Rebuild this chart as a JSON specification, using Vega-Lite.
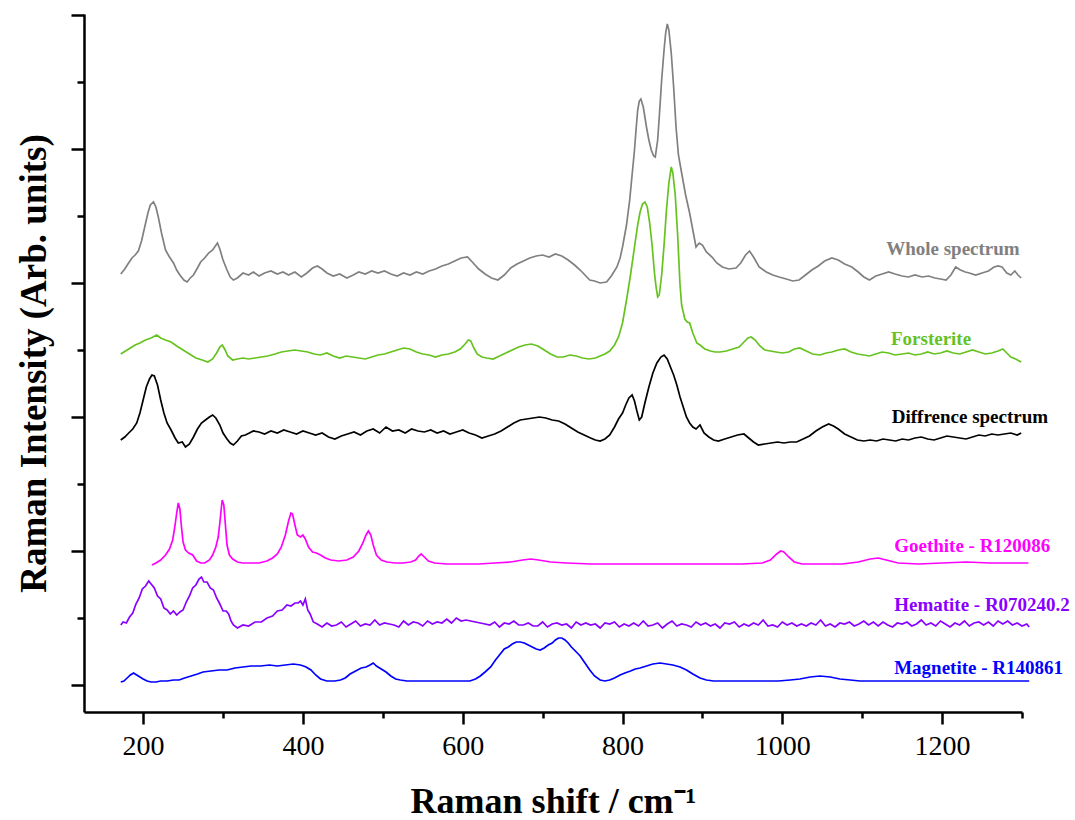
{
"$schema": "https://vega.github.io/schema/vega-lite/v6.json",
"width": 938, "height": 698,
"autosize": "none",
"padding": {"left": 84, "top": 14, "right": 53, "bottom": 108},
"background": "white",
"config": {"view": {"stroke": null}},
"datasets": {
"spectra": [
{"s":"W","x":172,"y":411},{"s":"W","x":177,"y":416},{"s":"W","x":181,"y":421},{"s":"W","x":186,"y":427},{"s":"W","x":190,"y":430},{"s":"W","x":194,"y":434},{"s":"W","x":198,"y":444},{"s":"W","x":202,"y":458},{"s":"W","x":206,"y":472},{"s":"W","x":209,"y":480},{"s":"W","x":213,"y":483},{"s":"W","x":216,"y":478},{"s":"W","x":219,"y":468},{"s":"W","x":223,"y":452},{"s":"W","x":228,"y":435},{"s":"W","x":233,"y":428},{"s":"W","x":238,"y":422},{"s":"W","x":242,"y":415},{"s":"W","x":246,"y":410},{"s":"W","x":251,"y":405},{"s":"W","x":255,"y":403},{"s":"W","x":259,"y":407},{"s":"W","x":263,"y":410},{"s":"W","x":268,"y":417},{"s":"W","x":272,"y":423},{"s":"W","x":277,"y":427},{"s":"W","x":282,"y":432},{"s":"W","x":287,"y":435},{"s":"W","x":293,"y":442},{"s":"W","x":296,"y":436},{"s":"W","x":300,"y":425},{"s":"W","x":305,"y":415},{"s":"W","x":309,"y":408},{"s":"W","x":313,"y":405},{"s":"W","x":318,"y":407},{"s":"W","x":325,"y":412},{"s":"W","x":332,"y":410},{"s":"W","x":338,"y":413},{"s":"W","x":345,"y":409},{"s":"W","x":352,"y":412},{"s":"W","x":360,"y":414},{"s":"W","x":368,"y":411},{"s":"W","x":375,"y":413},{"s":"W","x":382,"y":410},{"s":"W","x":390,"y":413},{"s":"W","x":398,"y":408},{"s":"W","x":405,"y":412},{"s":"W","x":412,"y":417},{"s":"W","x":418,"y":419},{"s":"W","x":424,"y":416},{"s":"W","x":430,"y":412},{"s":"W","x":438,"y":409},{"s":"W","x":446,"y":411},{"s":"W","x":455,"y":407},{"s":"W","x":463,"y":410},{"s":"W","x":470,"y":413},{"s":"W","x":478,"y":411},{"s":"W","x":486,"y":414},{"s":"W","x":494,"y":412},{"s":"W","x":502,"y":414},{"s":"W","x":510,"y":411},{"s":"W","x":518,"y":409},{"s":"W","x":526,"y":412},{"s":"W","x":534,"y":410},{"s":"W","x":542,"y":413},{"s":"W","x":550,"y":411},{"s":"W","x":558,"y":414},{"s":"W","x":566,"y":416},{"s":"W","x":574,"y":419},{"s":"W","x":582,"y":421},{"s":"W","x":590,"y":424},{"s":"W","x":598,"y":427},{"s":"W","x":606,"y":428},{"s":"W","x":612,"y":423},{"s":"W","x":620,"y":416},{"s":"W","x":628,"y":411},{"s":"W","x":636,"y":407},{"s":"W","x":644,"y":405},{"s":"W","x":652,"y":410},{"s":"W","x":660,"y":417},{"s":"W","x":668,"y":421},{"s":"W","x":676,"y":424},{"s":"W","x":684,"y":427},{"s":"W","x":692,"y":429},{"s":"W","x":700,"y":430},{"s":"W","x":708,"y":428},{"s":"W","x":716,"y":431},{"s":"W","x":724,"y":429},{"s":"W","x":732,"y":425},{"s":"W","x":740,"y":420},{"s":"W","x":747,"y":415},{"s":"W","x":753,"y":410},{"s":"W","x":759,"y":405},{"s":"W","x":765,"y":404},{"s":"W","x":772,"y":402},{"s":"W","x":780,"y":403},{"s":"W","x":786,"y":409},{"s":"W","x":793,"y":418},{"s":"W","x":797,"y":427},{"s":"W","x":800,"y":438},{"s":"W","x":805,"y":460},{"s":"W","x":809,"y":485},{"s":"W","x":812,"y":510},{"s":"W","x":815,"y":535},{"s":"W","x":817,"y":556},{"s":"W","x":819,"y":575},{"s":"W","x":821,"y":584},{"s":"W","x":823,"y":586},{"s":"W","x":826,"y":578},{"s":"W","x":830,"y":558},{"s":"W","x":833,"y":545},{"s":"W","x":836,"y":535},{"s":"W","x":839,"y":529},{"s":"W","x":841,"y":528},{"s":"W","x":844,"y":545},{"s":"W","x":846,"y":568},{"s":"W","x":849,"y":605},{"s":"W","x":852,"y":635},{"s":"W","x":854,"y":652},{"s":"W","x":856,"y":661},{"s":"W","x":858,"y":655},{"s":"W","x":861,"y":632},{"s":"W","x":864,"y":598},{"s":"W","x":867,"y":558},{"s":"W","x":870,"y":530},{"s":"W","x":874,"y":512},{"s":"W","x":879,"y":490},{"s":"W","x":884,"y":472},{"s":"W","x":888,"y":455},{"s":"W","x":892,"y":438},{"s":"W","x":896,"y":442},{"s":"W","x":900,"y":440},{"s":"W","x":905,"y":433},{"s":"W","x":912,"y":428},{"s":"W","x":918,"y":422},{"s":"W","x":925,"y":418},{"s":"W","x":933,"y":416},{"s":"W","x":942,"y":417},{"s":"W","x":948,"y":422},{"s":"W","x":954,"y":430},{"s":"W","x":959,"y":434},{"s":"W","x":964,"y":428},{"s":"W","x":971,"y":418},{"s":"W","x":980,"y":413},{"s":"W","x":988,"y":410},{"s":"W","x":996,"y":408},{"s":"W","x":1005,"y":406},{"s":"W","x":1013,"y":404},{"s":"W","x":1021,"y":405},{"s":"W","x":1029,"y":410},{"s":"W","x":1037,"y":415},{"s":"W","x":1045,"y":419},{"s":"W","x":1053,"y":424},{"s":"W","x":1062,"y":427},{"s":"W","x":1070,"y":425},{"s":"W","x":1078,"y":421},{"s":"W","x":1087,"y":418},{"s":"W","x":1095,"y":413},{"s":"W","x":1102,"y":408},{"s":"W","x":1109,"y":405},{"s":"W","x":1117,"y":409},{"s":"W","x":1125,"y":411},{"s":"W","x":1133,"y":413},{"s":"W","x":1141,"y":411},{"s":"W","x":1150,"y":409},{"s":"W","x":1158,"y":408},{"s":"W","x":1166,"y":410},{"s":"W","x":1175,"y":408},{"s":"W","x":1183,"y":409},{"s":"W","x":1191,"y":407},{"s":"W","x":1198,"y":406},{"s":"W","x":1205,"y":405},{"s":"W","x":1211,"y":410},{"s":"W","x":1217,"y":418},{"s":"W","x":1223,"y":415},{"s":"W","x":1229,"y":413},{"s":"W","x":1234,"y":412},{"s":"W","x":1242,"y":410},{"s":"W","x":1250,"y":412},{"s":"W","x":1258,"y":414},{"s":"W","x":1265,"y":418},{"s":"W","x":1270,"y":419},{"s":"W","x":1275,"y":418},{"s":"W","x":1281,"y":412},{"s":"W","x":1286,"y":410},{"s":"W","x":1291,"y":414},{"s":"W","x":1295,"y":410},{"s":"W","x":1299,"y":407},

{"s":"F","x":172,"y":331},{"s":"F","x":178,"y":334},{"s":"F","x":184,"y":337},{"s":"F","x":190,"y":340},{"s":"F","x":196,"y":342},{"s":"F","x":203,"y":345},{"s":"F","x":210,"y":347},{"s":"F","x":217,"y":350},{"s":"F","x":222,"y":347},{"s":"F","x":228,"y":345},{"s":"F","x":235,"y":343},{"s":"F","x":242,"y":339},{"s":"F","x":250,"y":335},{"s":"F","x":258,"y":331},{"s":"F","x":266,"y":327},{"s":"F","x":274,"y":325},{"s":"F","x":281,"y":323},{"s":"F","x":287,"y":326},{"s":"F","x":292,"y":332},{"s":"F","x":296,"y":338},{"s":"F","x":299,"y":340},{"s":"F","x":302,"y":336},{"s":"F","x":306,"y":329},{"s":"F","x":312,"y":325},{"s":"F","x":318,"y":326},{"s":"F","x":325,"y":327},{"s":"F","x":332,"y":326},{"s":"F","x":340,"y":327},{"s":"F","x":348,"y":328},{"s":"F","x":356,"y":329},{"s":"F","x":365,"y":331},{"s":"F","x":373,"y":333},{"s":"F","x":381,"y":334},{"s":"F","x":390,"y":335},{"s":"F","x":398,"y":334},{"s":"F","x":406,"y":333},{"s":"F","x":414,"y":331},{"s":"F","x":422,"y":330},{"s":"F","x":430,"y":332},{"s":"F","x":438,"y":329},{"s":"F","x":446,"y":327},{"s":"F","x":454,"y":329},{"s":"F","x":462,"y":328},{"s":"F","x":470,"y":327},{"s":"F","x":478,"y":326},{"s":"F","x":486,"y":328},{"s":"F","x":494,"y":330},{"s":"F","x":502,"y":331},{"s":"F","x":510,"y":333},{"s":"F","x":518,"y":335},{"s":"F","x":526,"y":337},{"s":"F","x":534,"y":336},{"s":"F","x":542,"y":333},{"s":"F","x":550,"y":331},{"s":"F","x":558,"y":330},{"s":"F","x":566,"y":328},{"s":"F","x":574,"y":330},{"s":"F","x":582,"y":331},{"s":"F","x":590,"y":333},{"s":"F","x":597,"y":336},{"s":"F","x":603,"y":341},{"s":"F","x":607,"y":345},{"s":"F","x":610,"y":344},{"s":"F","x":614,"y":337},{"s":"F","x":618,"y":331},{"s":"F","x":624,"y":328},{"s":"F","x":630,"y":327},{"s":"F","x":638,"y":326},{"s":"F","x":646,"y":329},{"s":"F","x":654,"y":332},{"s":"F","x":662,"y":335},{"s":"F","x":670,"y":338},{"s":"F","x":678,"y":340},{"s":"F","x":686,"y":341},{"s":"F","x":694,"y":339},{"s":"F","x":702,"y":335},{"s":"F","x":710,"y":331},{"s":"F","x":718,"y":328},{"s":"F","x":726,"y":328},{"s":"F","x":734,"y":330},{"s":"F","x":742,"y":329},{"s":"F","x":750,"y":327},{"s":"F","x":758,"y":326},{"s":"F","x":766,"y":327},{"s":"F","x":772,"y":329},{"s":"F","x":778,"y":331},{"s":"F","x":784,"y":334},{"s":"F","x":790,"y":340},{"s":"F","x":795,"y":348},{"s":"F","x":800,"y":362},{"s":"F","x":805,"y":385},{"s":"F","x":810,"y":410},{"s":"F","x":815,"y":438},{"s":"F","x":819,"y":460},{"s":"F","x":822,"y":473},{"s":"F","x":825,"y":481},{"s":"F","x":828,"y":483},{"s":"F","x":831,"y":478},{"s":"F","x":834,"y":462},{"s":"F","x":837,"y":440},{"s":"F","x":840,"y":412},{"s":"F","x":842,"y":398},{"s":"F","x":844,"y":388},{"s":"F","x":846,"y":390},{"s":"F","x":849,"y":410},{"s":"F","x":852,"y":440},{"s":"F","x":855,"y":475},{"s":"F","x":858,"y":502},{"s":"F","x":861,"y":518},{"s":"F","x":863,"y":512},{"s":"F","x":866,"y":490},{"s":"F","x":869,"y":450},{"s":"F","x":872,"y":400},{"s":"F","x":874,"y":380},{"s":"F","x":878,"y":366},{"s":"F","x":881,"y":363},{"s":"F","x":884,"y":362},{"s":"F","x":888,"y":352},{"s":"F","x":893,"y":342},{"s":"F","x":897,"y":340},{"s":"F","x":903,"y":336},{"s":"F","x":910,"y":334},{"s":"F","x":916,"y":333},{"s":"F","x":922,"y":333},{"s":"F","x":930,"y":334},{"s":"F","x":938,"y":336},{"s":"F","x":946,"y":338},{"s":"F","x":952,"y":343},{"s":"F","x":957,"y":347},{"s":"F","x":961,"y":348},{"s":"F","x":966,"y":345},{"s":"F","x":972,"y":339},{"s":"F","x":978,"y":335},{"s":"F","x":985,"y":334},{"s":"F","x":992,"y":333},{"s":"F","x":1000,"y":332},{"s":"F","x":1008,"y":333},{"s":"F","x":1015,"y":336},{"s":"F","x":1022,"y":337},{"s":"F","x":1030,"y":334},{"s":"F","x":1038,"y":331},{"s":"F","x":1047,"y":330},{"s":"F","x":1055,"y":332},{"s":"F","x":1062,"y":333},{"s":"F","x":1070,"y":335},{"s":"F","x":1078,"y":336},{"s":"F","x":1086,"y":333},{"s":"F","x":1094,"y":331},{"s":"F","x":1102,"y":330},{"s":"F","x":1109,"y":329},{"s":"F","x":1117,"y":331},{"s":"F","x":1125,"y":333},{"s":"F","x":1133,"y":332},{"s":"F","x":1141,"y":330},{"s":"F","x":1150,"y":331},{"s":"F","x":1158,"y":332},{"s":"F","x":1166,"y":330},{"s":"F","x":1174,"y":331},{"s":"F","x":1182,"y":333},{"s":"F","x":1190,"y":331},{"s":"F","x":1198,"y":332},{"s":"F","x":1206,"y":334},{"s":"F","x":1214,"y":332},{"s":"F","x":1222,"y":331},{"s":"F","x":1230,"y":333},{"s":"F","x":1238,"y":335},{"s":"F","x":1246,"y":333},{"s":"F","x":1254,"y":331},{"s":"F","x":1262,"y":332},{"s":"F","x":1270,"y":334},{"s":"F","x":1276,"y":336},{"s":"F","x":1281,"y":332},{"s":"F","x":1286,"y":328},{"s":"F","x":1292,"y":326},{"s":"F","x":1299,"y":323},

{"s":"D","x":172,"y":245},{"s":"D","x":177,"y":248},{"s":"D","x":182,"y":252},{"s":"D","x":187,"y":256},{"s":"D","x":192,"y":262},{"s":"D","x":196,"y":272},{"s":"D","x":200,"y":285},{"s":"D","x":204,"y":298},{"s":"D","x":208,"y":306},{"s":"D","x":211,"y":310},{"s":"D","x":214,"y":309},{"s":"D","x":218,"y":300},{"s":"D","x":222,"y":285},{"s":"D","x":226,"y":272},{"s":"D","x":230,"y":262},{"s":"D","x":235,"y":255},{"s":"D","x":240,"y":247},{"s":"D","x":244,"y":242},{"s":"D","x":249,"y":243},{"s":"D","x":253,"y":238},{"s":"D","x":258,"y":241},{"s":"D","x":263,"y":248},{"s":"D","x":268,"y":256},{"s":"D","x":273,"y":262},{"s":"D","x":278,"y":265},{"s":"D","x":283,"y":268},{"s":"D","x":287,"y":270},{"s":"D","x":291,"y":267},{"s":"D","x":296,"y":260},{"s":"D","x":300,"y":252},{"s":"D","x":305,"y":246},{"s":"D","x":309,"y":242},{"s":"D","x":313,"y":240},{"s":"D","x":318,"y":244},{"s":"D","x":323,"y":249},{"s":"D","x":328,"y":250},{"s":"D","x":333,"y":252},{"s":"D","x":338,"y":254},{"s":"D","x":345,"y":253},{"s":"D","x":352,"y":251},{"s":"D","x":360,"y":254},{"s":"D","x":368,"y":252},{"s":"D","x":376,"y":255},{"s":"D","x":384,"y":253},{"s":"D","x":392,"y":251},{"s":"D","x":400,"y":254},{"s":"D","x":408,"y":252},{"s":"D","x":416,"y":250},{"s":"D","x":424,"y":252},{"s":"D","x":432,"y":248},{"s":"D","x":440,"y":246},{"s":"D","x":448,"y":249},{"s":"D","x":456,"y":251},{"s":"D","x":464,"y":253},{"s":"D","x":472,"y":250},{"s":"D","x":480,"y":254},{"s":"D","x":488,"y":256},{"s":"D","x":496,"y":252},{"s":"D","x":504,"y":258},{"s":"D","x":512,"y":254},{"s":"D","x":520,"y":255},{"s":"D","x":528,"y":252},{"s":"D","x":536,"y":256},{"s":"D","x":544,"y":254},{"s":"D","x":552,"y":253},{"s":"D","x":560,"y":255},{"s":"D","x":568,"y":252},{"s":"D","x":576,"y":254},{"s":"D","x":584,"y":251},{"s":"D","x":592,"y":253},{"s":"D","x":600,"y":255},{"s":"D","x":608,"y":252},{"s":"D","x":616,"y":250},{"s":"D","x":624,"y":247},{"s":"D","x":632,"y":249},{"s":"D","x":640,"y":251},{"s":"D","x":648,"y":254},{"s":"D","x":656,"y":258},{"s":"D","x":664,"y":262},{"s":"D","x":672,"y":265},{"s":"D","x":680,"y":266},{"s":"D","x":688,"y":267},{"s":"D","x":696,"y":268},{"s":"D","x":704,"y":267},{"s":"D","x":712,"y":265},{"s":"D","x":720,"y":264},{"s":"D","x":728,"y":261},{"s":"D","x":736,"y":257},{"s":"D","x":744,"y":253},{"s":"D","x":752,"y":250},{"s":"D","x":760,"y":247},{"s":"D","x":766,"y":245},{"s":"D","x":772,"y":244},{"s":"D","x":778,"y":246},{"s":"D","x":784,"y":250},{"s":"D","x":790,"y":258},{"s":"D","x":795,"y":266},{"s":"D","x":800,"y":272},{"s":"D","x":804,"y":280},{"s":"D","x":808,"y":287},{"s":"D","x":812,"y":290},{"s":"D","x":815,"y":284},{"s":"D","x":818,"y":274},{"s":"D","x":821,"y":265},{"s":"D","x":824,"y":268},{"s":"D","x":828,"y":282},{"s":"D","x":833,"y":298},{"s":"D","x":838,"y":312},{"s":"D","x":843,"y":322},{"s":"D","x":848,"y":328},{"s":"D","x":852,"y":330},{"s":"D","x":856,"y":326},{"s":"D","x":860,"y":318},{"s":"D","x":864,"y":310},{"s":"D","x":868,"y":300},{"s":"D","x":872,"y":288},{"s":"D","x":876,"y":278},{"s":"D","x":880,"y":268},{"s":"D","x":884,"y":262},{"s":"D","x":888,"y":258},{"s":"D","x":892,"y":256},{"s":"D","x":897,"y":260},{"s":"D","x":902,"y":252},{"s":"D","x":908,"y":248},{"s":"D","x":914,"y":245},{"s":"D","x":920,"y":244},{"s":"D","x":928,"y":246},{"s":"D","x":936,"y":248},{"s":"D","x":944,"y":250},{"s":"D","x":952,"y":251},{"s":"D","x":958,"y":247},{"s":"D","x":964,"y":243},{"s":"D","x":970,"y":240},{"s":"D","x":978,"y":241},{"s":"D","x":986,"y":242},{"s":"D","x":994,"y":243},{"s":"D","x":1002,"y":242},{"s":"D","x":1010,"y":243},{"s":"D","x":1018,"y":243},{"s":"D","x":1026,"y":246},{"s":"D","x":1034,"y":249},{"s":"D","x":1042,"y":254},{"s":"D","x":1050,"y":258},{"s":"D","x":1058,"y":261},{"s":"D","x":1064,"y":259},{"s":"D","x":1070,"y":256},{"s":"D","x":1078,"y":251},{"s":"D","x":1086,"y":248},{"s":"D","x":1094,"y":245},{"s":"D","x":1102,"y":244},{"s":"D","x":1110,"y":245},{"s":"D","x":1118,"y":244},{"s":"D","x":1126,"y":246},{"s":"D","x":1134,"y":245},{"s":"D","x":1142,"y":244},{"s":"D","x":1150,"y":246},{"s":"D","x":1158,"y":245},{"s":"D","x":1166,"y":247},{"s":"D","x":1174,"y":248},{"s":"D","x":1182,"y":246},{"s":"D","x":1190,"y":245},{"s":"D","x":1198,"y":247},{"s":"D","x":1206,"y":249},{"s":"D","x":1214,"y":248},{"s":"D","x":1222,"y":247},{"s":"D","x":1230,"y":246},{"s":"D","x":1238,"y":248},{"s":"D","x":1246,"y":250},{"s":"D","x":1254,"y":249},{"s":"D","x":1262,"y":251},{"s":"D","x":1270,"y":250},{"s":"D","x":1278,"y":251},{"s":"D","x":1286,"y":252},{"s":"D","x":1294,"y":250},{"s":"D","x":1299,"y":252},

{"s":"G","x":211,"y":120},{"s":"G","x":216,"y":122},{"s":"G","x":222,"y":125},{"s":"G","x":228,"y":130},{"s":"G","x":233,"y":136},{"s":"G","x":237,"y":145},{"s":"G","x":240,"y":160},{"s":"G","x":242,"y":172},{"s":"G","x":244,"y":182},{"s":"G","x":246,"y":176},{"s":"G","x":248,"y":158},{"s":"G","x":250,"y":143},{"s":"G","x":253,"y":135},{"s":"G","x":257,"y":132},{"s":"G","x":262,"y":130},{"s":"G","x":267,"y":124},{"s":"G","x":272,"y":122},{"s":"G","x":277,"y":122},{"s":"G","x":283,"y":125},{"s":"G","x":287,"y":130},{"s":"G","x":291,"y":138},{"s":"G","x":294,"y":148},{"s":"G","x":296,"y":162},{"s":"G","x":298,"y":178},{"s":"G","x":299,"y":185},{"s":"G","x":301,"y":180},{"s":"G","x":303,"y":160},{"s":"G","x":305,"y":140},{"s":"G","x":308,"y":130},{"s":"G","x":312,"y":126},{"s":"G","x":318,"y":123},{"s":"G","x":325,"y":122},{"s":"G","x":335,"y":122},{"s":"G","x":345,"y":122},{"s":"G","x":355,"y":124},{"s":"G","x":362,"y":127},{"s":"G","x":368,"y":131},{"s":"G","x":373,"y":138},{"s":"G","x":378,"y":150},{"s":"G","x":382,"y":164},{"s":"G","x":385,"y":172},{"s":"G","x":387,"y":171},{"s":"G","x":390,"y":160},{"s":"G","x":393,"y":150},{"s":"G","x":397,"y":148},{"s":"G","x":400,"y":150},{"s":"G","x":403,"y":146},{"s":"G","x":407,"y":138},{"s":"G","x":412,"y":133},{"s":"G","x":417,"y":132},{"s":"G","x":422,"y":130},{"s":"G","x":428,"y":127},{"s":"G","x":435,"y":125},{"s":"G","x":445,"y":124},{"s":"G","x":455,"y":125},{"s":"G","x":463,"y":128},{"s":"G","x":470,"y":134},{"s":"G","x":475,"y":142},{"s":"G","x":479,"y":150},{"s":"G","x":482,"y":154},{"s":"G","x":485,"y":150},{"s":"G","x":488,"y":140},{"s":"G","x":492,"y":130},{"s":"G","x":498,"y":125},{"s":"G","x":505,"y":123},{"s":"G","x":515,"y":122},{"s":"G","x":525,"y":122},{"s":"G","x":535,"y":123},{"s":"G","x":541,"y":125},{"s":"G","x":545,"y":129},{"s":"G","x":548,"y":131},{"s":"G","x":552,"y":128},{"s":"G","x":557,"y":124},{"s":"G","x":565,"y":122},{"s":"G","x":580,"y":121},{"s":"G","x":600,"y":121},{"s":"G","x":620,"y":121},{"s":"G","x":640,"y":122},{"s":"G","x":660,"y":123},{"s":"G","x":675,"y":125},{"s":"G","x":685,"y":126},{"s":"G","x":695,"y":125},{"s":"G","x":710,"y":123},{"s":"G","x":730,"y":122},{"s":"G","x":760,"y":121},{"s":"G","x":800,"y":121},{"s":"G","x":850,"y":121},{"s":"G","x":900,"y":121},{"s":"G","x":950,"y":121},{"s":"G","x":975,"y":122},{"s":"G","x":985,"y":125},{"s":"G","x":993,"y":131},{"s":"G","x":998,"y":134},{"s":"G","x":1002,"y":133},{"s":"G","x":1008,"y":128},{"s":"G","x":1015,"y":123},{"s":"G","x":1025,"y":121},{"s":"G","x":1050,"y":121},{"s":"G","x":1075,"y":121},{"s":"G","x":1095,"y":123},{"s":"G","x":1110,"y":126},{"s":"G","x":1120,"y":127},{"s":"G","x":1130,"y":125},{"s":"G","x":1145,"y":122},{"s":"G","x":1170,"y":121},{"s":"G","x":1200,"y":122},{"s":"G","x":1230,"y":123},{"s":"G","x":1260,"y":122},{"s":"G","x":1280,"y":122},{"s":"G","x":1308,"y":122},

{"s":"H","x":172,"y":60},{"s":"H","x":175,"y":63},{"s":"H","x":179,"y":62},{"s":"H","x":183,"y":68},{"s":"H","x":187,"y":72},{"s":"H","x":191,"y":81},{"s":"H","x":195,"y":87},{"s":"H","x":199,"y":96},{"s":"H","x":203,"y":99},{"s":"H","x":207,"y":104},{"s":"H","x":210,"y":101},{"s":"H","x":214,"y":97},{"s":"H","x":218,"y":89},{"s":"H","x":222,"y":86},{"s":"H","x":226,"y":77},{"s":"H","x":230,"y":75},{"s":"H","x":234,"y":71},{"s":"H","x":238,"y":74},{"s":"H","x":242,"y":70},{"s":"H","x":246,"y":73},{"s":"H","x":250,"y":75},{"s":"H","x":254,"y":83},{"s":"H","x":258,"y":89},{"s":"H","x":262,"y":97},{"s":"H","x":266,"y":100},{"s":"H","x":270,"y":106},{"s":"H","x":273,"y":108},{"s":"H","x":276,"y":103},{"s":"H","x":280,"y":103},{"s":"H","x":284,"y":97},{"s":"H","x":288,"y":95},{"s":"H","x":292,"y":87},{"s":"H","x":296,"y":81},{"s":"H","x":300,"y":74},{"s":"H","x":304,"y":74},{"s":"H","x":307,"y":71},{"s":"H","x":310,"y":64},{"s":"H","x":313,"y":60},{"s":"H","x":318,"y":57},{"s":"H","x":325,"y":60},{"s":"H","x":332,"y":59},{"s":"H","x":340,"y":63},{"s":"H","x":348,"y":63},{"s":"H","x":355,"y":67},{"s":"H","x":362,"y":69},{"s":"H","x":368,"y":74},{"s":"H","x":374,"y":75},{"s":"H","x":380,"y":80},{"s":"H","x":385,"y":79},{"s":"H","x":390,"y":82},{"s":"H","x":394,"y":82},{"s":"H","x":397,"y":84},{"s":"H","x":400,"y":80},{"s":"H","x":403,"y":86},{"s":"H","x":406,"y":75},{"s":"H","x":409,"y":71},{"s":"H","x":413,"y":63},{"s":"H","x":418,"y":61},{"s":"H","x":424,"y":58},{"s":"H","x":430,"y":62},{"s":"H","x":436,"y":59},{"s":"H","x":442,"y":60},{"s":"H","x":448,"y":63},{"s":"H","x":454,"y":58},{"s":"H","x":460,"y":61},{"s":"H","x":466,"y":64},{"s":"H","x":472,"y":59},{"s":"H","x":478,"y":61},{"s":"H","x":484,"y":60},{"s":"H","x":490,"y":65},{"s":"H","x":496,"y":60},{"s":"H","x":502,"y":62},{"s":"H","x":508,"y":61},{"s":"H","x":514,"y":60},{"s":"H","x":520,"y":58},{"s":"H","x":526,"y":64},{"s":"H","x":532,"y":60},{"s":"H","x":538,"y":63},{"s":"H","x":544,"y":62},{"s":"H","x":550,"y":59},{"s":"H","x":556,"y":64},{"s":"H","x":562,"y":61},{"s":"H","x":568,"y":63},{"s":"H","x":574,"y":62},{"s":"H","x":580,"y":66},{"s":"H","x":586,"y":62},{"s":"H","x":592,"y":67},{"s":"H","x":598,"y":64},{"s":"H","x":604,"y":65},{"s":"H","x":610,"y":64},{"s":"H","x":616,"y":63},{"s":"H","x":622,"y":62},{"s":"H","x":628,"y":61},{"s":"H","x":634,"y":60},{"s":"H","x":640,"y":63},{"s":"H","x":646,"y":58},{"s":"H","x":652,"y":62},{"s":"H","x":658,"y":61},{"s":"H","x":664,"y":64},{"s":"H","x":670,"y":60},{"s":"H","x":676,"y":60},{"s":"H","x":682,"y":62},{"s":"H","x":688,"y":59},{"s":"H","x":694,"y":59},{"s":"H","x":700,"y":63},{"s":"H","x":706,"y":58},{"s":"H","x":712,"y":61},{"s":"H","x":718,"y":62},{"s":"H","x":724,"y":60},{"s":"H","x":730,"y":61},{"s":"H","x":736,"y":57},{"s":"H","x":742,"y":63},{"s":"H","x":748,"y":60},{"s":"H","x":754,"y":62},{"s":"H","x":760,"y":60},{"s":"H","x":766,"y":61},{"s":"H","x":772,"y":57},{"s":"H","x":778,"y":62},{"s":"H","x":784,"y":61},{"s":"H","x":790,"y":63},{"s":"H","x":796,"y":58},{"s":"H","x":802,"y":61},{"s":"H","x":808,"y":59},{"s":"H","x":814,"y":62},{"s":"H","x":820,"y":59},{"s":"H","x":826,"y":64},{"s":"H","x":832,"y":59},{"s":"H","x":838,"y":60},{"s":"H","x":844,"y":62},{"s":"H","x":850,"y":57},{"s":"H","x":856,"y":61},{"s":"H","x":862,"y":64},{"s":"H","x":868,"y":59},{"s":"H","x":874,"y":61},{"s":"H","x":880,"y":60},{"s":"H","x":886,"y":58},{"s":"H","x":892,"y":63},{"s":"H","x":898,"y":60},{"s":"H","x":904,"y":62},{"s":"H","x":910,"y":59},{"s":"H","x":916,"y":61},{"s":"H","x":922,"y":57},{"s":"H","x":928,"y":62},{"s":"H","x":934,"y":61},{"s":"H","x":940,"y":63},{"s":"H","x":946,"y":58},{"s":"H","x":952,"y":61},{"s":"H","x":958,"y":59},{"s":"H","x":964,"y":62},{"s":"H","x":970,"y":60},{"s":"H","x":976,"y":65},{"s":"H","x":982,"y":59},{"s":"H","x":988,"y":60},{"s":"H","x":994,"y":58},{"s":"H","x":1000,"y":63},{"s":"H","x":1006,"y":60},{"s":"H","x":1012,"y":62},{"s":"H","x":1018,"y":59},{"s":"H","x":1024,"y":61},{"s":"H","x":1030,"y":59},{"s":"H","x":1036,"y":62},{"s":"H","x":1042,"y":60},{"s":"H","x":1048,"y":65},{"s":"H","x":1054,"y":59},{"s":"H","x":1060,"y":61},{"s":"H","x":1066,"y":58},{"s":"H","x":1072,"y":62},{"s":"H","x":1078,"y":61},{"s":"H","x":1084,"y":63},{"s":"H","x":1090,"y":59},{"s":"H","x":1096,"y":61},{"s":"H","x":1102,"y":64},{"s":"H","x":1108,"y":60},{"s":"H","x":1114,"y":63},{"s":"H","x":1120,"y":59},{"s":"H","x":1126,"y":63},{"s":"H","x":1132,"y":60},{"s":"H","x":1138,"y":58},{"s":"H","x":1144,"y":62},{"s":"H","x":1150,"y":61},{"s":"H","x":1156,"y":63},{"s":"H","x":1162,"y":59},{"s":"H","x":1168,"y":61},{"s":"H","x":1174,"y":65},{"s":"H","x":1180,"y":60},{"s":"H","x":1186,"y":62},{"s":"H","x":1192,"y":59},{"s":"H","x":1198,"y":64},{"s":"H","x":1204,"y":61},{"s":"H","x":1210,"y":58},{"s":"H","x":1216,"y":62},{"s":"H","x":1222,"y":60},{"s":"H","x":1228,"y":64},{"s":"H","x":1234,"y":59},{"s":"H","x":1240,"y":62},{"s":"H","x":1246,"y":63},{"s":"H","x":1252,"y":60},{"s":"H","x":1258,"y":63},{"s":"H","x":1264,"y":59},{"s":"H","x":1270,"y":64},{"s":"H","x":1276,"y":61},{"s":"H","x":1282,"y":64},{"s":"H","x":1288,"y":60},{"s":"H","x":1294,"y":62},{"s":"H","x":1300,"y":59},{"s":"H","x":1306,"y":61},{"s":"H","x":1309,"y":58},

{"s":"M","x":172,"y":3},{"s":"M","x":176,"y":4},{"s":"M","x":180,"y":7},{"s":"M","x":184,"y":10},{"s":"M","x":188,"y":12},{"s":"M","x":192,"y":10},{"s":"M","x":196,"y":8},{"s":"M","x":200,"y":6},{"s":"M","x":205,"y":4},{"s":"M","x":210,"y":3},{"s":"M","x":216,"y":3},{"s":"M","x":222,"y":4},{"s":"M","x":230,"y":4},{"s":"M","x":238,"y":5},{"s":"M","x":245,"y":5},{"s":"M","x":252,"y":7},{"s":"M","x":260,"y":9},{"s":"M","x":268,"y":11},{"s":"M","x":275,"y":13},{"s":"M","x":285,"y":14},{"s":"M","x":295,"y":15},{"s":"M","x":305,"y":15},{"s":"M","x":315,"y":17},{"s":"M","x":325,"y":18},{"s":"M","x":335,"y":19},{"s":"M","x":347,"y":19},{"s":"M","x":358,"y":20},{"s":"M","x":368,"y":19},{"s":"M","x":378,"y":20},{"s":"M","x":388,"y":21},{"s":"M","x":397,"y":20},{"s":"M","x":404,"y":18},{"s":"M","x":410,"y":15},{"s":"M","x":416,"y":10},{"s":"M","x":422,"y":6},{"s":"M","x":430,"y":4},{"s":"M","x":440,"y":4},{"s":"M","x":447,"y":5},{"s":"M","x":453,"y":7},{"s":"M","x":459,"y":11},{"s":"M","x":466,"y":14},{"s":"M","x":473,"y":17},{"s":"M","x":479,"y":18},{"s":"M","x":484,"y":20},{"s":"M","x":488,"y":22},{"s":"M","x":492,"y":19},{"s":"M","x":498,"y":16},{"s":"M","x":504,"y":13},{"s":"M","x":510,"y":9},{"s":"M","x":516,"y":6},{"s":"M","x":522,"y":5},{"s":"M","x":530,"y":4},{"s":"M","x":540,"y":4},{"s":"M","x":550,"y":4},{"s":"M","x":560,"y":4},{"s":"M","x":570,"y":4},{"s":"M","x":580,"y":4},{"s":"M","x":590,"y":4},{"s":"M","x":600,"y":4},{"s":"M","x":609,"y":4},{"s":"M","x":616,"y":6},{"s":"M","x":622,"y":9},{"s":"M","x":628,"y":13},{"s":"M","x":635,"y":18},{"s":"M","x":641,"y":25},{"s":"M","x":647,"y":31},{"s":"M","x":652,"y":36},{"s":"M","x":657,"y":38},{"s":"M","x":662,"y":41},{"s":"M","x":667,"y":43},{"s":"M","x":672,"y":43},{"s":"M","x":677,"y":42},{"s":"M","x":682,"y":40},{"s":"M","x":687,"y":38},{"s":"M","x":692,"y":36},{"s":"M","x":697,"y":35},{"s":"M","x":702,"y":37},{"s":"M","x":707,"y":40},{"s":"M","x":712,"y":42},{"s":"M","x":716,"y":45},{"s":"M","x":720,"y":47},{"s":"M","x":724,"y":47},{"s":"M","x":728,"y":45},{"s":"M","x":732,"y":42},{"s":"M","x":736,"y":38},{"s":"M","x":741,"y":34},{"s":"M","x":747,"y":29},{"s":"M","x":753,"y":22},{"s":"M","x":759,"y":15},{"s":"M","x":765,"y":9},{"s":"M","x":772,"y":5},{"s":"M","x":778,"y":4},{"s":"M","x":784,"y":5},{"s":"M","x":790,"y":7},{"s":"M","x":797,"y":10},{"s":"M","x":803,"y":12},{"s":"M","x":810,"y":14},{"s":"M","x":816,"y":16},{"s":"M","x":822,"y":17},{"s":"M","x":830,"y":19},{"s":"M","x":838,"y":21},{"s":"M","x":847,"y":22},{"s":"M","x":855,"y":21},{"s":"M","x":863,"y":20},{"s":"M","x":872,"y":18},{"s":"M","x":880,"y":15},{"s":"M","x":888,"y":11},{"s":"M","x":897,"y":7},{"s":"M","x":905,"y":5},{"s":"M","x":914,"y":4},{"s":"M","x":922,"y":4},{"s":"M","x":935,"y":4},{"s":"M","x":950,"y":4},{"s":"M","x":965,"y":4},{"s":"M","x":980,"y":4},{"s":"M","x":995,"y":4},{"s":"M","x":1010,"y":5},{"s":"M","x":1022,"y":6},{"s":"M","x":1035,"y":8},{"s":"M","x":1047,"y":9},{"s":"M","x":1060,"y":8},{"s":"M","x":1072,"y":6},{"s":"M","x":1085,"y":5},{"s":"M","x":1097,"y":4},{"s":"M","x":1109,"y":4},{"s":"M","x":1130,"y":4},{"s":"M","x":1160,"y":4},{"s":"M","x":1190,"y":4},{"s":"M","x":1220,"y":4},{"s":"M","x":1250,"y":4},{"s":"M","x":1280,"y":4},{"s":"M","x":1309,"y":4}
],
"labels": [
{"s":"W","label":"Whole spectrum","x":1130,"y":436},
{"s":"F","label":"Forsterite","x":1136,"y":346},
{"s":"D","label":"Diffrence spectrum","x":1137,"y":268},
{"s":"G","label":"Goethite - R120086","x":1140,"y":139},
{"s":"H","label":"Hematite - R070240.2","x":1140,"y":80},
{"s":"M","label":"Magnetite - R140861","x":1140,"y":17}
]
},
"layer": [
{
"data": {"name": "spectra"},
"mark": {"type": "line", "interpolate": "linear", "clip": false},
"encoding": {
"x": {"field": "x", "type": "quantitative",
"scale": {"domain": [126, 1300], "nice": false, "zero": false},
"axis": {
"title": "Raman shift / cm⁻¹",
"values": [200,300,400,500,600,700,800,900,1000,1100,1200,1300],
"format": "d",
"labelExpr": "datum.value % 200 === 0 ? datum.label : ''",
"grid": false,
"domainColor": "black", "domainWidth": 2.5,
"tickColor": "black", "tickWidth": 2.5,
"tickSize": {"condition": {"test": "datum.value % 200 === 0", "value": 12}, "value": 6},
"labelFont": "Liberation Serif", "labelFontSize": 28, "labelColor": "black",
"labelPadding": 8, "labelFlush": false,
"titleFont": "Liberation Serif", "titleFontSize": 36, "titleFontWeight": "bold", "titleColor": "black",
"titlePadding": 24
}},
"y": {"field": "y", "type": "quantitative",
"scale": {"domain": [-27, 671], "nice": false, "zero": false},
"axis": {
"title": "Raman Intensity (Arb. units)",
"values": [0,67,134,201,268,335,402,469,536,603,670],
"labels": false,
"grid": false,
"domainColor": "black", "domainWidth": 2.5,
"tickColor": "black", "tickWidth": 2.5,
"tickSize": {"condition": {"test": "datum.value % 134 === 0", "value": 13}, "value": 7},
"titleFont": "Liberation Serif", "titleFontSize": 37, "titleFontWeight": "bold", "titleColor": "black",
"titlePadding": 16
}},
"color": {"field": "s", "type": "nominal", "legend": null,
"scale": {"domain": ["W","F","D","G","H","M"], "range": ["#808080","#66c31f","#000000","#ff00ff","#8a00ff","#0000ff"]}},
"strokeWidth": {"field": "s", "type": "nominal", "legend": null,
"scale": {"domain": ["W","F","D","G","H","M"], "range": [1.7,1.7,2.7,2.1,2.3,2.1]}}
}
},
{
"data": {"name": "labels"},
"mark": {"type": "text", "align": "left", "baseline": "middle", "font": "Liberation Serif", "fontWeight": "bold", "fontSize": 19},
"encoding": {
"x": {"field": "x", "type": "quantitative"},
"y": {"field": "y", "type": "quantitative"},
"text": {"field": "label"},
"color": {"field": "s", "type": "nominal", "legend": null,
"scale": {"domain": ["W","F","D","G","H","M"], "range": ["#808080","#66c31f","#000000","#ff00ff","#8a00ff","#0000ff"]}}
}
}
]
}
